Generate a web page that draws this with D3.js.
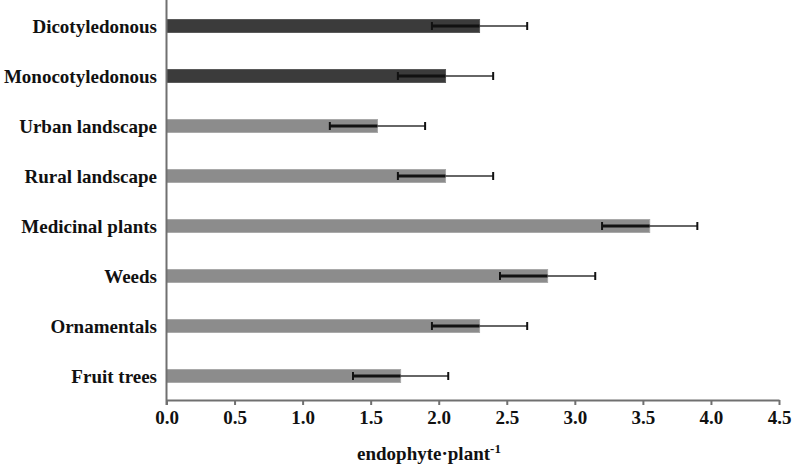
<!DOCTYPE html>
<html>
  <head>
    <meta charset="utf-8">
    <title>Endophytes per plant</title>
    <script src="https://cdn.jsdelivr.net/npm/d3@7"></script>
    <style>
      body { margin: 0; background: #fff; }
      #chart { display: block; }
      text { font-family: "Liberation Serif", "Times New Roman", serif; font-weight: bold; fill: #111; }
      .domain { stroke: #707070; stroke-width: 2; }
      .tick line { stroke: #707070; stroke-width: 2; }
    </style>
  </head>

  <body>
    <svg id="chart" width="792" height="468">
      <g id="barGroup"></g>
      <g id="errorGroup"></g>
      <g id="xAxisGroup"></g>
      <g id="labelGroup"></g>
      <line id="yAxisLine"></line>
      <text id="xTitle"></text>
    </svg>

    <script>
      // chart data
      categories = ["Dicotyledonous", "Monocotyledonous", "Urban landscape", "Rural landscape",
        "Medicinal plants", "Weeds", "Ornamentals", "Fruit trees"];
      means = [2.3, 2.05, 1.55, 2.05, 3.55, 2.8, 2.3, 1.72];
      errors = [0.35, 0.35, 0.35, 0.35, 0.35, 0.35, 0.35, 0.35];
      groups = ["dark", "dark", "light", "light", "light", "light", "light", "light"];
      tickValues = [0, 0.5, 1, 1.5, 2, 2.5, 3, 3.5, 4, 4.5];

      rows = categories.map(function(c, i) {
        return { name: c, mean: means[i], err: errors[i], group: groups[i] };
      });

      // layout
      margin = { top: 1, left: 166.5, right: 779, bottom: 400 };
      fills = { dark: "#3b3b3b", light: "#8c8c8c" };
      edges = { dark: "#5a5a5a", light: "#a9a9a9" };

      x = d3.scaleLinear()
        .domain([0, 4.5])
        .range([margin.left, margin.right]);
      y = d3.scaleBand()
        .domain(categories)
        .range([margin.top, margin.bottom + 1])
        .paddingInner(0.74)
        .paddingOuter(0.37);

      chart = d3.select("#chart");

      // bars
      d3.select("#barGroup")
        .selectAll("rect")
          .data(rows)
          .enter().append("rect")
            .attr("x", x(0))
            .attr("y", function(d) { return y(d.name); })
            .attr("width", function(d) { return x(d.mean) - x(0); })
            .attr("height", y.bandwidth())
            .attr("fill", function(d) { return fills[d.group]; })
            .attr("stroke", function(d) { return edges[d.group]; })
            .attr("stroke-width", 1);

      // error bars: thick inside the bar, thin outside
      errs = d3.select("#errorGroup")
        .selectAll("g")
          .data(rows)
          .enter().append("g")
            .attr("transform", function(d) {
              return "translate(0," + (y(d.name) + y.bandwidth() / 2) + ")";
            });
      errs.append("line")
        .attr("x1", function(d) { return x(d.mean - d.err); })
        .attr("x2", function(d) { return x(d.mean); })
        .attr("stroke", "#111")
        .attr("stroke-width", 3);
      errs.append("line")
        .attr("x1", function(d) { return x(d.mean); })
        .attr("x2", function(d) { return x(d.mean + d.err); })
        .attr("stroke", "#333")
        .attr("stroke-width", 1.5);
      errs.selectAll(".cap")
        .data(function(d) { return [d.mean - d.err, d.mean + d.err]; })
        .enter().append("line")
          .classed("cap", true)
          .attr("x1", function(v) { return x(v); })
          .attr("x2", function(v) { return x(v); })
          .attr("y1", -4)
          .attr("y2", 4)
          .attr("stroke", "#111")
          .attr("stroke-width", 2);

      // x axis
      xAxis = d3.axisBottom(x)
        .tickValues(tickValues)
        .tickFormat(d3.format(".1f"))
        .tickSizeInner(5)
        .tickSizeOuter(0)
        .tickPadding(6);
      d3.select("#xAxisGroup")
        .attr("transform", "translate(0," + margin.bottom + ")")
        .call(xAxis)
        .selectAll("text")
          .attr("font-size", 19)
          .attr("font-family", null);

      // y axis line and category labels
      d3.select("#yAxisLine")
        .attr("x1", x(0)).attr("x2", x(0))
        .attr("y1", 0).attr("y2", margin.bottom + 5)
        .attr("stroke", "#707070")
        .attr("stroke-width", 2);

      d3.select("#labelGroup")
        .selectAll("text")
          .data(categories)
          .enter().append("text")
            .attr("x", 157)
            .attr("y", function(d) { return y(d) + y.bandwidth() / 2; })
            .attr("dy", "0.35em")
            .attr("text-anchor", "end")
            .attr("font-size", 19)
            .text(function(d) { return d; });

      // axis title with superscript
      title = d3.select("#xTitle")
        .attr("x", 357)
        .attr("y", 460)
        .attr("font-size", 19);
      title.append("tspan").text("endophyte\u00b7plant");
      title.append("tspan")
        .attr("dy", -7)
        .attr("font-size", 13)
        .text("-1");
    </script>
  </body>
</html>
